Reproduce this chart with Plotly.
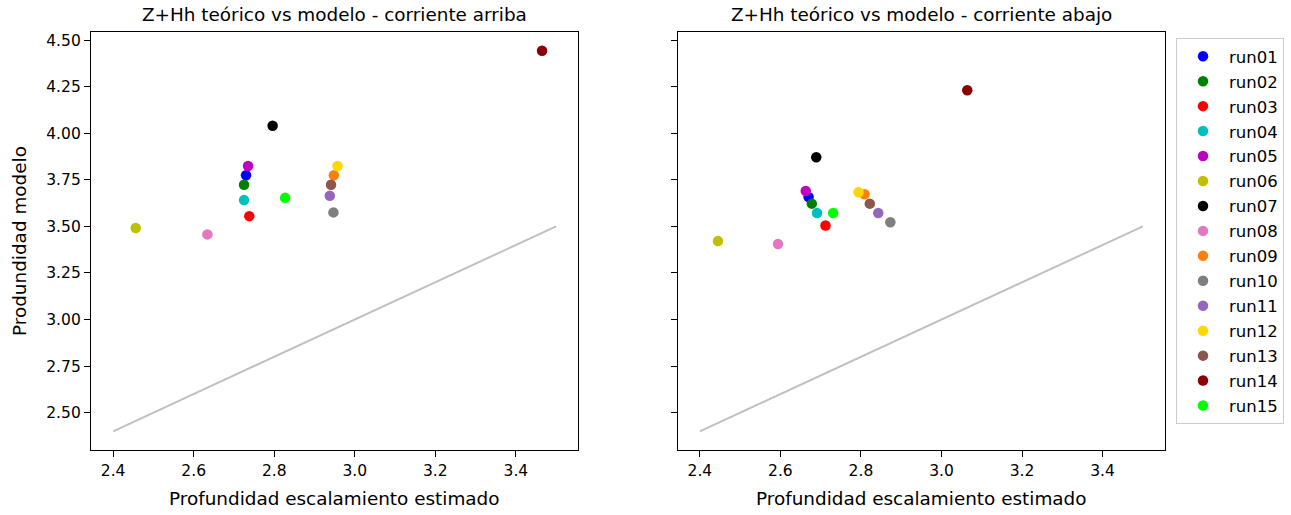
import plotly.graph_objects as go

# Run identifiers and their marker colours
runs = ["run01", "run02", "run03", "run04", "run05", "run06", "run07", "run08",
        "run09", "run10", "run11", "run12", "run13", "run14", "run15"]
colors = ["#0000ff", "#008000", "#ff0000", "#00bfbf", "#bf00bf", "#bfbf00", "#000000",
          "#e377c2", "#ff7f0e", "#7f7f7f", "#9467bd", "#ffd700", "#8c564b", "#8b0000",
          "#00ff00"]

# Estimated scaling depth (x) vs model depth (y), upstream
upstream_x = [2.730, 2.725, 2.738, 2.725, 2.735, 2.456, 2.796, 2.634,
              2.948, 2.947, 2.938, 2.957, 2.941, 3.465, 2.827]
upstream_y = [3.774, 3.723, 3.555, 3.641, 3.824, 3.491, 4.040, 3.457,
              3.774, 3.575, 3.664, 3.824, 3.723, 4.443, 3.653]

# Same for downstream
downstream_x = [2.670, 2.678, 2.712, 2.691, 2.663, 2.445, 2.689, 2.594,
                2.809, 2.873, 2.843, 2.794, 2.822, 3.064, 2.731]
downstream_y = [3.658, 3.622, 3.505, 3.572, 3.690, 3.421, 3.871, 3.405,
                3.672, 3.522, 3.572, 3.683, 3.622, 4.231, 3.572]

# 1:1 reference line
ref_line = [2.4, 3.5]

y_ticks = [2.50, 2.75, 3.00, 3.25, 3.50, 3.75, 4.00, 4.25, 4.50]
x_ticks = [2.4, 2.6, 2.8, 3.0, 3.2, 3.4]

W, H = 1291, 515
FONT = "DejaVu Sans"

fig = go.Figure()

for xa, ya, xs, ys, legend in [("x", "y", upstream_x, upstream_y, False),
                               ("x2", "y2", downstream_x, downstream_y, True)]:
    fig.add_trace(go.Scatter(x=ref_line, y=ref_line, mode="lines",
                             line=dict(color="silver", width=2),
                             showlegend=False, hoverinfo="skip",
                             xaxis=xa, yaxis=ya))
    for name, c, xv, yv in zip(runs, colors, xs, ys):
        fig.add_trace(go.Scatter(x=[xv], y=[yv], mode="markers", name=name,
                                 legendgroup=name, showlegend=legend,
                                 marker=dict(color=c, size=10.5, line=dict(width=0)),
                                 xaxis=xa, yaxis=ya))

left_dom = [91 / W, 578.3 / W]
right_dom = [677.7 / W, 1165 / W]
y_dom = [1 - 450.3 / H, 1 - 31.7 / H]

axis_common = dict(showline=True, linecolor="black", linewidth=1.25, mirror=True,
                   ticks="outside", ticklen=6, tickwidth=1.25, tickcolor="black",
                   showgrid=False, zeroline=False,
                   tickfont=dict(family=FONT, size=15.5, color="black"))

fig.update_layout(
    width=W, height=H,
    margin=dict(l=0, r=0, t=0, b=0),
    paper_bgcolor="white", plot_bgcolor="white",
    font=dict(family=FONT, color="black"),
    xaxis=dict(domain=left_dom, range=[2.345, 3.555], tickvals=x_ticks,
               ticktext=[f"{v:.1f}" for v in x_ticks], anchor="y", **axis_common),
    yaxis=dict(domain=y_dom, range=[2.298, 4.545], tickvals=y_ticks,
               ticktext=[f"{v:.2f}" for v in y_ticks], anchor="x", **axis_common),
    xaxis2=dict(domain=right_dom, range=[2.345, 3.555], tickvals=x_ticks,
                ticktext=[f"{v:.1f}" for v in x_ticks], anchor="y2", **axis_common),
    yaxis2=dict(domain=y_dom, range=[2.298, 4.545], tickvals=y_ticks,
                showticklabels=False, anchor="x2", matches="y", **axis_common),
    legend=dict(x=1176 / W, y=1 - 38 / H, xanchor="left", yanchor="top",
                bgcolor="white", bordercolor="#cccccc", borderwidth=1,
                font=dict(family=FONT, size=16.5, color="black"),
                traceorder="grouped", tracegroupgap=0.5, itemwidth=42),
)

title_font = dict(family=FONT, size=18.4, color="black")
annotations = [
    dict(text="Z+Hh teórico vs modelo - corriente arriba", x=sum(left_dom) / 2,
         y=1 - 15 / H, xref="paper", yref="paper", showarrow=False,
         xanchor="center", yanchor="middle", font=title_font),
    dict(text="Z+Hh teórico vs modelo - corriente abajo", x=sum(right_dom) / 2,
         y=1 - 15 / H, xref="paper", yref="paper", showarrow=False,
         xanchor="center", yanchor="middle", font=title_font),
    dict(text="Profundidad escalamiento estimado", x=sum(left_dom) / 2,
         y=1 - 498 / H, xref="paper", yref="paper", showarrow=False,
         xanchor="center", yanchor="middle", font=title_font),
    dict(text="Profundidad escalamiento estimado", x=sum(right_dom) / 2,
         y=1 - 498 / H, xref="paper", yref="paper", showarrow=False,
         xanchor="center", yanchor="middle", font=title_font),
    dict(text="Produndidad modelo", x=19 / W, y=sum(y_dom) / 2,
         xref="paper", yref="paper", showarrow=False, textangle=-90,
         xanchor="center", yanchor="middle", font=title_font),
]
fig.update_layout(annotations=annotations)

fig.write_html("out.html")
